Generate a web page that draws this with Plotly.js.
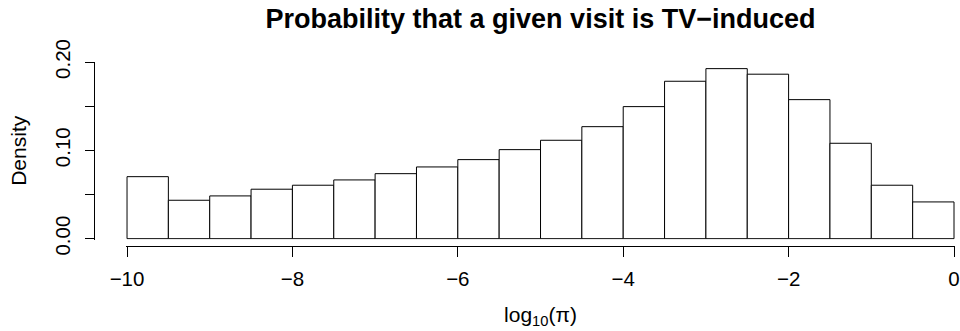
<!DOCTYPE html>
<html><head><meta charset="utf-8">
<script src="https://cdn.plot.ly/plotly-3.0.1.min.js"></script>
<style>html,body{margin:0;padding:0;background:#fff}#chart{width:960px;height:331px}</style>
</head><body><div id="chart"></div>
<script>
// Histogram breaks (log10 of probability) and densities
const breaks = [-10,-9.5,-9,-8.5,-8,-7.5,-7,-6.5,-6,-5.5,-5,-4.5,-4,-3.5,-3,-2.5,-2,-1.5,-1,-0.5,0];
const density = [0.0702,0.0435,0.0484,0.0560,0.0605,0.0665,0.0736,0.0812,0.0895,0.1008,
                 0.1114,0.1268,0.1495,0.1782,0.1925,0.1862,0.1574,0.1080,0.0605,0.0416];
const xTickVals = [-10,-8,-6,-4,-2,0];
const xTickText = ['\u221210','\u22128','\u22126','\u22124','\u22122','0'];
const yTickVals = [0,0.10,0.20];
const yTickText = ['0.00','0.10','0.20'];
const yMinorTickVals = [0.05,0.15];
const titleText = 'Probability that a given visit is TV\u2212induced';
const xTitle = 'log<sub>10</sub>(\u03c0)';
const yTitle = 'Density';

const mids = density.map((_, i) => (breaks[i] + breaks[i + 1]) / 2);
const widths = density.map((_, i) => breaks[i + 1] - breaks[i]);

const FONT = 'Liberation Sans, Arial, Helvetica, sans-serif';

const trace = {
  type: 'bar', x: mids, y: density, width: widths,
  marker: {color: '#ffffff', line: {color: '#000000', width: 1}},
  hoverinfo: 'skip'
};

const layout = {
  width: 960, height: 331,
  margin: {l: 94, r: 5, t: 62, b: 85, pad: 0},
  paper_bgcolor: '#ffffff', plot_bgcolor: '#ffffff',
  showlegend: false,
  bargap: 0,
  font: {family: FONT, color: '#000000', size: 20},
  title: {
    text: titleText, font: {family: FONT, size: 27, weight: 'bold', color: '#000'},
    xref: 'container', x: 540.5 / 960, xanchor: 'center',
    yref: 'container', y: 1 - 19 / 331, yanchor: 'middle'
  },
  xaxis: {
    domain: [0.0372, 1], range: [-10.012, 0.012],
    anchor: 'free', position: 0,
    showline: true, linecolor: '#000', linewidth: 1,
    ticks: 'outside', ticklen: 10, tickcolor: '#000', tickwidth: 1,
    tickmode: 'array', tickvals: xTickVals, ticktext: xTickText, ticklabelstandoff: 4,
    tickfont: {family: FONT, size: 20.5, color: '#000'},
    showgrid: false, zeroline: false, fixedrange: true,
    title: {text: xTitle, font: {family: FONT, size: 21, color: '#000'}, standoff: 18}
  },
  yaxis: {
    domain: [0.035, 1], range: [-0.001, 0.2],
    anchor: 'free', position: 0,
    showline: true, linecolor: '#000', linewidth: 1,
    ticks: 'outside', ticklen: 9, tickcolor: '#000', tickwidth: 1,
    tickmode: 'array', tickvals: yTickVals, ticktext: yTickText, tickangle: -90, ticklabelstandoff: 7,
    minor: {tickmode: 'array', tickvals: yMinorTickVals, ticks: 'outside', ticklen: 9, tickcolor: '#000', tickwidth: 1, showgrid: false},
    tickfont: {family: FONT, size: 20.5, color: '#000'},
    showgrid: false, zeroline: false, fixedrange: true,
    title: {text: yTitle, font: {family: FONT, size: 21, color: '#000'}, standoff: 17}
  }
};

Plotly.newPlot('chart', [trace], layout, {displayModeBar: false, staticPlot: true});
</script></body></html>
